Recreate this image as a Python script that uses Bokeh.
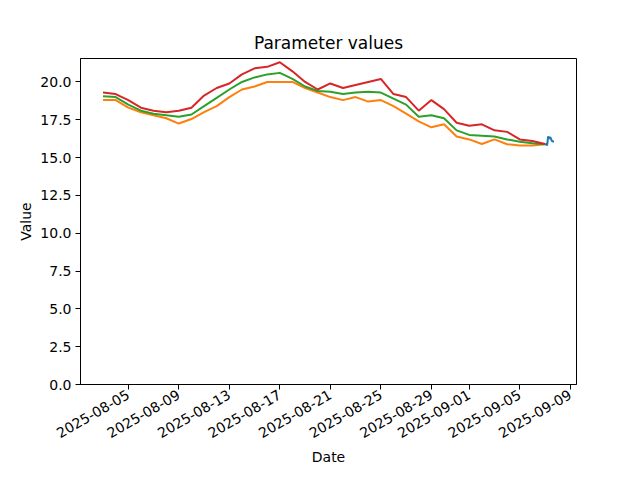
import math
import pandas as pd
from bokeh.plotting import figure
from bokeh.models import Range1d, FixedTicker, DatetimeTickFormatter, NumeralTickFormatter, ColumnDataSource
from bokeh.embed import file_html
from bokeh.resources import INLINE

# ---- data ----
start_date = "2025-08-03"
n_days = 36

red_vals = [19.3, 19.2, 18.8, 18.3, 18.1, 18.0, 18.1, 18.3, 19.1, 19.6,
            19.9, 20.5, 20.9, 21.0, 21.3, 20.7, 20.0, 19.5, 19.9, 19.6,
            19.8, 20.0, 20.2, 19.2, 19.0, 18.1, 18.8, 18.2, 17.3, 17.1,
            17.2, 16.8, 16.7, 16.2, 16.1, 15.9]
green_vals = [19.05, 19.0, 18.5, 18.1, 17.9, 17.8, 17.7, 17.85, 18.4, 18.95,
              19.5, 20.0, 20.3, 20.5, 20.6, 20.2, 19.7, 19.4, 19.35, 19.2,
              19.3, 19.35, 19.3, 18.9, 18.5, 17.7, 17.8, 17.6, 16.8, 16.5,
              16.45, 16.4, 16.2, 16.05, 15.95, 15.88]
orange_vals = [18.8, 18.8, 18.3, 18.0, 17.8, 17.6, 17.25, 17.55, 18.0, 18.4,
               19.0, 19.5, 19.7, 20.0, 20.0, 20.0, 19.6, 19.3, 19.0, 18.8,
               19.0, 18.7, 18.8, 18.4, 17.9, 17.4, 17.0, 17.2, 16.4, 16.2,
               15.9, 16.2, 15.88, 15.8, 15.8, 15.88]

blue_times = ["2025-09-07 00:00", "2025-09-07 03:00", "2025-09-07 04:00",
              "2025-09-07 06:00", "2025-09-07 08:00", "2025-09-07 10:00",
              "2025-09-07 13:00", "2025-09-07 17:00"]
blue_vals = [15.9, 15.85, 15.8, 16.4, 16.25, 16.35, 16.1, 16.05]

x_tick_labels = ["2025-08-05", "2025-08-09", "2025-08-13", "2025-08-17",
                 "2025-08-21", "2025-08-25", "2025-08-29", "2025-09-01",
                 "2025-09-05", "2025-09-09"]
y_ticks = [0, 2.5, 5, 7.5, 10, 12.5, 15, 17.5, 20]

# ---- build ----
dates = pd.date_range(start_date, periods=n_days, freq="D")
daily = ColumnDataSource(dict(date=dates, red=red_vals, green=green_vals, orange=orange_vals))
blue = ColumnDataSource(dict(date=pd.to_datetime(blue_times), val=blue_vals))

t0 = dates[0]
t1 = pd.Timestamp(blue_times[-1])
pad = (t1 - t0) * 0.05

p = figure(width=640, height=480, x_axis_type="datetime",
           output_backend="svg", toolbar_location=None,
           x_range=Range1d(t0 - pad, t1 + pad), y_range=Range1d(0, 21.55),
           min_border_left=80, min_border_right=64, min_border_top=58, min_border_bottom=96,
           title="Parameter values")

p.line("date", "val", source=blue, color="#1f77b4", line_width=2)
p.line("date", "orange", source=daily, color="#ff7f0e", line_width=2)
p.line("date", "green", source=daily, color="#2ca02c", line_width=2)
p.line("date", "red", source=daily, color="#d62728", line_width=2)

p.title.align = "center"
p.title.text_font = "DejaVu Sans"
p.title.text_font_size = "17px"
p.title.text_font_style = "normal"
p.title.text_color = "black"
p.title.standoff = 11

p.xgrid.visible = False
p.ygrid.visible = False
p.outline_line_color = "black"
p.outline_line_alpha = 1
p.outline_line_width = 1
p.background_fill_color = "white"
p.border_fill_color = "white"

tick_ms = [pd.Timestamp(s).value // 10**6 for s in x_tick_labels]
p.xaxis.ticker = FixedTicker(ticks=tick_ms)
p.xaxis.formatter = DatetimeTickFormatter(days="%Y-%m-%d", months="%Y-%m-%d", years="%Y-%m-%d",
                                          hours="%Y-%m-%d", minutes="%Y-%m-%d")
p.xaxis.major_label_orientation = math.pi / 6
p.yaxis.ticker = FixedTicker(ticks=y_ticks)
p.yaxis.formatter = NumeralTickFormatter(format="0.0")

for ax in (p.xaxis[0], p.yaxis[0]):
    ax.axis_line_color = "black"
    ax.major_tick_line_color = "black"
    ax.major_tick_out = 5
    ax.major_tick_in = 0
    ax.minor_tick_line_color = None
    ax.major_label_text_font = "DejaVu Sans"
    ax.major_label_text_font_size = "14px"
    ax.major_label_text_color = "black"
    ax.axis_label_text_font = "DejaVu Sans"
    ax.axis_label_text_font_size = "14px"
    ax.axis_label_text_font_style = "normal"
    ax.axis_label_text_color = "black"
    ax.major_label_standoff = 4

p.xaxis.axis_label = "Date"
p.yaxis.axis_label = "Value"
p.xaxis.axis_label_standoff = 3
p.yaxis.axis_label_standoff = 3

open("out.html", "w").write(file_html(p, INLINE))
